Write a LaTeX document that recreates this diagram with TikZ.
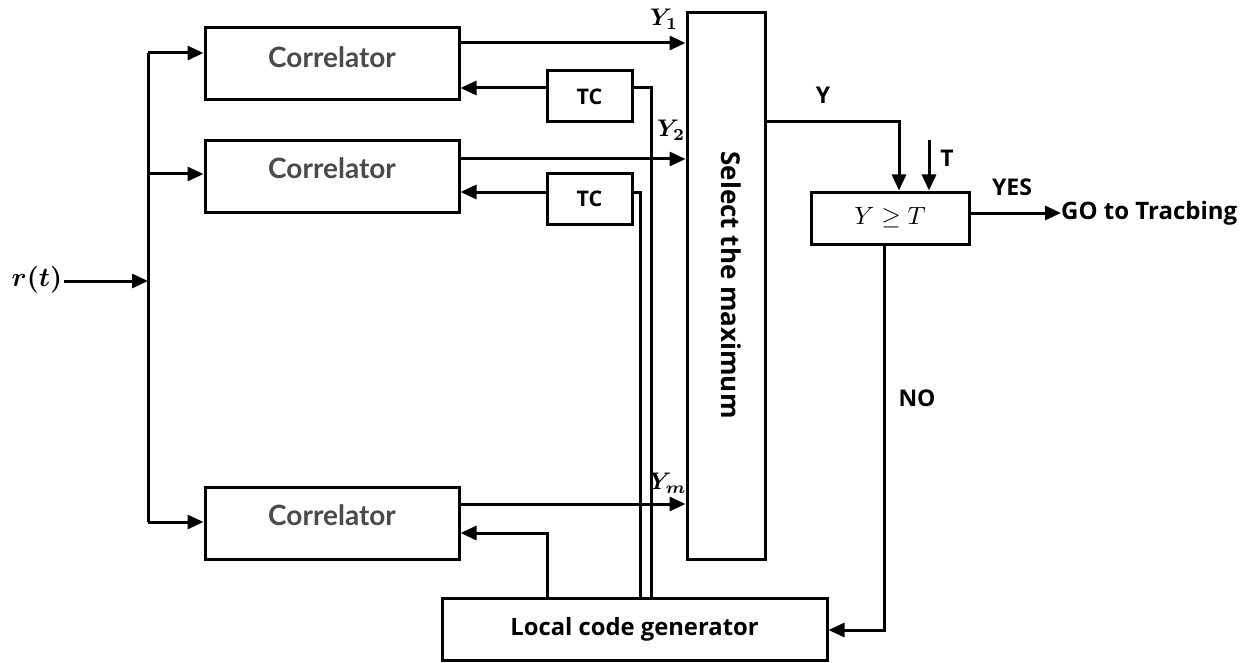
\documentclass[tikz,border=0pt]{standalone}
\usepackage{amsmath}
\usepackage{bm}
\usepackage{graphicx}
\usepackage[no-math]{fontspec}
\setmainfont{Open Sans}
\newfontfamily\latofont{Lato}
\usetikzlibrary{arrows.meta,calc}
\definecolor{corrgrey}{HTML}{4A4A4A}
\tikzset{
  blk/.style={draw, line width=3pt, rectangle, inner sep=0pt},
  wire/.style={line width=3pt},
  arr/.style={line width=3pt, -{Triangle[length=16pt,width=14pt]}},
  corrtxt/.style={font=\latofont\bfseries\fontsize{28}{32}\selectfont, text=corrgrey},
  lbl/.style={font=\bfseries\fontsize{23}{26}\selectfont}
}
\newcommand{\bigmath}[2]{\scalebox{#1}{$#2$}}
\begin{document}
\begin{tikzpicture}[x=1pt,y=-1pt]
\useasboundingbox (0,0) rectangle (1249,663);
% correlators
\node[blk, minimum width=254pt, minimum height=72pt] (c1) at (332,64) {};
\node[blk, minimum width=254pt, minimum height=72pt] (c2) at (332,176.5) {};
\node[blk, minimum width=254pt, minimum height=72pt] (c3) at (332,523.5) {};
\node[corrtxt] (c1t) at (332,57) {Correlator};
\node[corrtxt] (c2t) at (332,168) {Correlator};
\node[corrtxt] (c3t) at (332,515) {Correlator};
% TC blocks
\node[blk, minimum width=85pt, minimum height=51pt, font=\bfseries\fontsize{21.5}{24}\selectfont] (tc1) at (589.5,96.5) {TC};
\node[blk, minimum width=85pt, minimum height=50pt, font=\bfseries\fontsize{21.5}{24}\selectfont] (tc2) at (589.5,199) {TC};
% select the maximum
\node[blk, minimum width=78pt, minimum height=546pt] (sel) at (726,286) {};
\node[font=\bfseries\fontsize{26}{30}\selectfont, rotate=-90] (selt) at (731,285) {Select the maximum};
% local code generator
\node[blk, minimum width=385pt, minimum height=62pt, font=\bfseries\fontsize{23.8}{27}\selectfont] (lcg) at (634.5,629) {Local code generator};
% comparator
\node[blk, minimum width=158pt, minimum height=52pt] (cmp) at (890,218) {\bigmath{2.5}{Y \geq T}};
% input
\node[inner sep=2pt] (rt) at (37,280) {\bigmath{2.7}{\bm{r(t)}}};
\coordinate (bustop) at (148,53);
\coordinate (busmid) at (148,281);
\coordinate (busbot) at (148,522);
\draw[arr] (rt.east |- busmid) -- (busmid);
\draw[wire] (bustop) -- (busbot);
\draw[arr] (bustop) -- (c1.west |- bustop);
\draw[arr] (148,174) -- (c2.west |- 148,174);
\draw[arr] (busbot) -- (c3.west |- busbot);
% correlator outputs
\draw[arr] (c1.east |- 0,43) -- (sel.west |- 0,43);
\draw[arr] (c2.east |- 0,159) -- (sel.west |- 0,159);
\draw[arr] (c3.east |- 0,504) -- (sel.west |- 0,504);
\node (y1) at (664,19) {\bigmath{2.4}{\bm{Y_1}}};
\node (y2) at (671,130) {\bigmath{2.4}{\bm{Y_2}}};
\node (ym) at (668,483) {\bigmath{2.4}{\bm{Y_m}}};
% TC connections
\draw[arr] (tc1.west |- 0,88) -- (c1.east |- 0,88);
\draw[arr] (tc2.west |- 0,192) -- (c2.east |- 0,192);
\draw[wire] (tc1.east |- 0,88) -- (651,88) -- (lcg.north -| 651,0);
\draw[wire] (tc2.east |- 0,192) -- (640,192) -- (lcg.north -| 640,0);
% LCG to correlator 3
\draw[arr] (lcg.north -| 547,0) -- (547,533) -- (c3.east |- 0,533);
% Y output to comparator
\coordinate (ycorner) at (899,122);
\draw[arr] (sel.east |- ycorner) -- (ycorner) -- (cmp.north -| ycorner);
\node[lbl] (ylab) at (823,95) {Y};
\coordinate (tstart) at (929,140);
\draw[arr] (tstart) -- (cmp.north -| tstart);
\node[lbl] (tlab) at (947,158) {T};
% YES
\node[lbl, anchor=west, inner sep=0pt, font=\bfseries\fontsize{24}{27}\selectfont] (go) at (1061,213) {GO to Tracbing};
\draw[arr] (cmp.east |- go.west) -- (go.west);
\node[lbl] (yes) at (1012,187) {YES};
% NO
\coordinate (nocorner) at (884,630);
\draw[arr] (cmp.south -| nocorner) -- (nocorner) -- (lcg.east |- nocorner);
\node[lbl] (no) at (917,398) {NO};
\end{tikzpicture}
\end{document}
